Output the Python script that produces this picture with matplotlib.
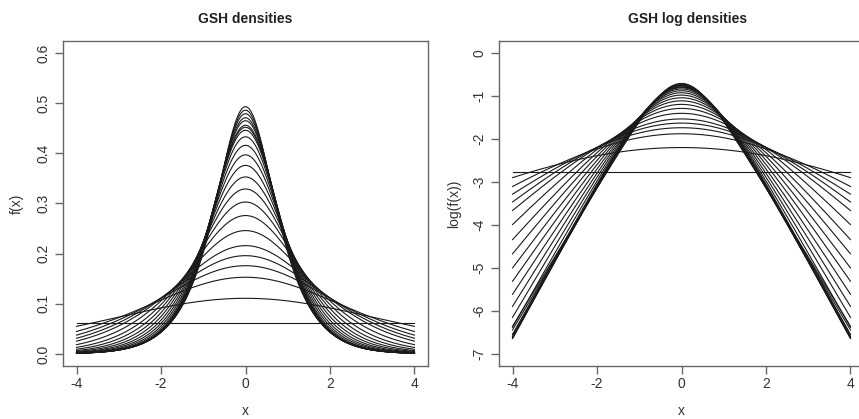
import numpy as np
import matplotlib.pyplot as plt

plt.rcParams['font.family'] = ['Liberation Sans', 'DejaVu Sans']

# peak heights f(0) of each GSH curve and its kurtosis parameter t
peaks = [0.0625, 0.111, 0.153, 0.176, 0.196, 0.216, 0.246, 0.276, 0.303,
         0.329, 0.353, 0.376, 0.397, 0.416, 0.433, 0.446, 0.452, 0.456,
         0.465, 0.471, 0.479, 0.486, 0.493]
t_vals = [20.0, 0.3, 0.0, 0.0, 0.0, 0.0, 0.0, 0.0, 0.0,
          0.0, 0.0, 0.0, 0.0, 0.0, 0.0, 0.0, -0.2, -0.4,
          -0.7, -0.9, -1.1, -1.3, -1.45]

xticks = [-4, -2, 0, 2, 4]
f_ticks = [0.0, 0.1, 0.2, 0.3, 0.4, 0.5, 0.6]
logf_ticks = [0, -1, -2, -3, -4, -5, -6, -7]


def gsh(x, t):
    # standardised generalised secant hyperbolic density
    if t < 0:
        a = np.cos(t)
        c2 = np.sqrt((np.pi**2 - t**2) / 3)
        c1 = np.sin(t) / t * c2
    elif t == 0:
        a = 1.0
        c2 = np.pi / np.sqrt(3)
        c1 = c2
    else:
        a = np.cosh(t)
        c2 = np.sqrt((np.pi**2 + t**2) / 3)
        c1 = np.sinh(t) / t * c2
    return c1 / (2 * np.cosh(c2 * x) + 2 * a)


x = np.linspace(-4, 4, 801)
curves = []
for pk, t in zip(peaks, t_vals):
    s = gsh(0.0, t) / pk
    curves.append(gsh(x / s, t) / s)

W, H = 859, 419
fig = plt.figure(figsize=(W / 100, H / 100), dpi=100)
ax1 = fig.add_axes([63 / W, 53 / H, 365 / W, 325 / H])
ax2 = fig.add_axes([499 / W, 53 / H, 365 / W, 325 / H])

frame = '#666666'
txt = '#333333'

for ax in (ax1, ax2):
    for sp in ax.spines.values():
        sp.set_color(frame)
        sp.set_linewidth(1.0)
    ax.tick_params(direction='out', length=6, width=1.0, color=frame,
                   labelcolor=txt, labelsize=10, pad=3)
    ax.tick_params(axis='x', pad=2)
    ax.set_xlim(-4.32, 4.32)
    ax.set_xticks(xticks)
    ax.set_xticklabels([str(v) for v in xticks])
    ax.set_xlabel('x', fontsize=10, color=txt, labelpad=9)

for y in curves:
    ax1.plot(x, y, color='#1a1a1a', lw=0.8)
    ax2.plot(x, np.log(y), color='#1a1a1a', lw=0.8)

ax1.set_ylim(-0.024, 0.624)
ax1.set_yticks(f_ticks)
ax1.set_yticklabels(['%.1f' % v for v in f_ticks], rotation=90, va='center')
ax1.set_ylabel('f(x)', fontsize=10, color=txt, labelpad=9)
ax1.set_title('GSH densities', fontsize=10, fontweight='bold', color='#222222', pad=13)

ax2.set_ylim(-7.28, 0.28)
ax2.set_yticks(logf_ticks)
ax2.set_yticklabels([str(v) for v in logf_ticks], rotation=90, va='center')
ax2.set_ylabel('log(f(x))', fontsize=10, color=txt, labelpad=8)
ax2.set_title('GSH log densities', fontsize=10, fontweight='bold', color='#222222',
              pad=13, x=(688 - 499) / 365)

fig.savefig('out.png', dpi=100)
